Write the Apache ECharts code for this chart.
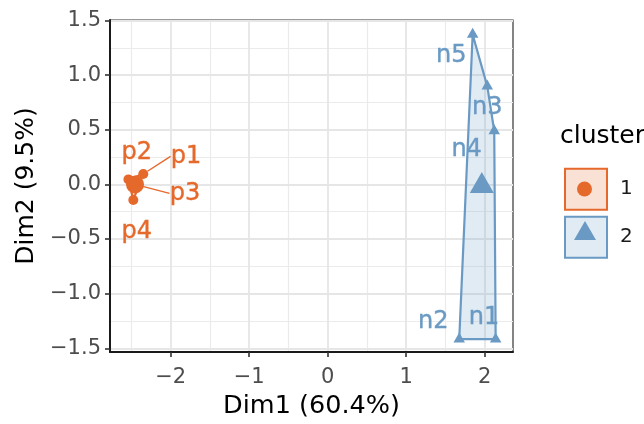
<!DOCTYPE html>
<html><head><meta charset="utf-8">
<script src="https://cdn.jsdelivr.net/npm/echarts@6/dist/echarts.min.js"></script>
<style>html,body{margin:0;padding:0;background:#fff}#c{width:644px;height:424px}</style>
</head><body><div id="c"></div>
<script>
// ---- data ----
const CLUSTER1_NAMES = ['p1', 'p2', 'p3', 'p4'];
const CLUSTER1_X = [-2.349, -2.538, -2.455, -2.476];
const CLUSTER1_Y = [0.096, 0.046, 0.0, -0.142];
const CLUSTER2_NAMES = ['n1', 'n2', 'n3', 'n4', 'n5'];
const CLUSTER2_X = [2.140, 1.676, 2.033, 2.122, 1.847];
const CLUSTER2_Y = [-1.416, -1.416, 0.900, 0.489, 1.372];
const X_TICKS = [-2, -1, 0, 1, 2];
const Y_TICKS = [-1.5, -1.0, -0.5, 0, 0.5, 1.0, 1.5];
const X_MINOR = [-2.5, -1.5, -0.5, 0.5, 1.5];
const Y_MINOR = [-1.25, -0.75, -0.25, 0.25, 0.75, 1.25];
const X_RANGE = [-2.773, 2.361];
const Y_RANGE = [-1.534, 1.505];
const LEGEND_LABELS = ['1', '2'];
const SEGMENT_LABELS = ['p1', 'p3'];

// ---- styles (label nudges in px, like ggrepel output) ----
const SHIFT1 = [[42.7, -17.5], [8.2, -26.5], [50, 9], [3.4, 31.8]];
const SHIFT2 = [[-11.7, -20], [-26, -16], [0, 23.3], [-27.6, 20], [-21.4, 23.3]];
const ORANGE = '#E6692C', BLUE = '#6A9AC4';
const ORANGE_FILL = 'rgba(230,105,44,0.2)', BLUE_FILL = 'rgba(106,154,196,0.2)';
const FONT = 'DejaVu Sans';

function zip(xs, ys) { return xs.map((x, i) => [x, ys[i]]); }
function mean(a) { return a.reduce((s, v) => s + v, 0) / a.length; }
function hull(pts) {
  const p = pts.slice().sort((a, b) => a[0] - b[0] || a[1] - b[1]);
  const cross = (o, a, b) => (a[0] - o[0]) * (b[1] - o[1]) - (a[1] - o[1]) * (b[0] - o[0]);
  const lo = [], up = [];
  for (const q of p) { while (lo.length >= 2 && cross(lo[lo.length - 2], lo[lo.length - 1], q) <= 0) lo.pop(); lo.push(q); }
  for (let i = p.length - 1; i >= 0; i--) { const q = p[i]; while (up.length >= 2 && cross(up[up.length - 2], up[up.length - 1], q) <= 0) up.pop(); up.push(q); }
  up.pop(); lo.pop();
  return lo.concat(up);
}
const pts1 = zip(CLUSTER1_X, CLUSTER1_Y);
const pts2 = zip(CLUSTER2_X, CLUSTER2_Y);
const hull1 = hull(pts1), hull2 = hull(pts2);
const center1 = [mean(CLUSTER1_X), mean(CLUSTER1_Y)];
const center2 = [mean(CLUSTER2_X), mean(CLUSTER2_Y)];
const minus = v => String(v).replace('-', '\u2212');

function hullSeries(name, h, stroke, fill) {
  return {
    name: name, type: 'custom', z: 2, silent: true, animation: false,
    data: h,
    renderItem: function (params, api) {
      if (params.dataIndex !== 0) return null;
      return {
        type: 'polygon',
        shape: { points: h.map(p => api.coord(p)) },
        style: { fill: fill, stroke: stroke, lineWidth: 2.2, lineJoin: 'round' }
      };
    }
  };
}
function pointSeries(name, names, pts, shift, color, symbol, size, offset) {
  return {
    name: name, type: 'scatter', z: 4, animation: false,
    symbol: symbol, symbolSize: size, symbolOffset: offset,
    itemStyle: { color: color, opacity: 1 },
    data: names.map((n, i) => ({
      name: n, value: pts[i],
      labelLine: { show: SEGMENT_LABELS.indexOf(n) >= 0 }
    })),
    label: {
      show: true, position: 'inside', formatter: '{b}', fontSize: 24, fontFamily: FONT,
      color: color, align: 'center', verticalAlign: 'middle',
      textBorderWidth: 0.4, textBorderColor: color, opacity: 1
    },
    labelLayout: function (p) { const s = shift[p.dataIndex]; return { dx: s[0], dy: s[1] }; },
    labelLine: { show: false, lineStyle: { color: color, width: 1.4 } }
  };
}

const chart = echarts.init(document.getElementById('c'), null, { renderer: 'canvas' });
chart.setOption({
  backgroundColor: '#fff',
  textStyle: { fontFamily: FONT },
  animation: false,
  title: { text: 'cluster', left: 555, top: 119, textStyle: { fontSize: 25, fontWeight: 'normal', color: '#000', fontFamily: FONT } },
  grid: { left: 110, right: 131, top: 20, bottom: 72, show: true, borderColor: '#333', borderWidth: 1.2, backgroundColor: '#fff' },
  xAxis: {
    type: 'value', min: X_RANGE[0], max: X_RANGE[1],
    splitLine: { show: false },
    axisLine: { show: true, onZero: false, lineStyle: { color: '#1a1a1a', width: 2 } },
    axisTick: { show: true, customValues: X_TICKS, length: 5, lineStyle: { color: '#333', width: 1.6 } },
    axisLabel: { customValues: X_TICKS, formatter: v => minus(v), fontSize: 21, color: '#4D4D4D', margin: 15 },
    name: 'Dim1 (60.4%)', nameLocation: 'middle', nameGap: 41,
    nameTextStyle: { fontSize: 25.5, color: '#000' }
  },
  yAxis: {
    type: 'value', min: Y_RANGE[0], max: Y_RANGE[1],
    splitLine: { show: false },
    axisLine: { show: true, onZero: false, lineStyle: { color: '#1a1a1a', width: 2 } },
    axisTick: { show: true, customValues: Y_TICKS, length: 5, lineStyle: { color: '#333', width: 1.6 } },
    axisLabel: { customValues: Y_TICKS, formatter: v => minus(Number(v).toFixed(1)), fontSize: 21, color: '#4D4D4D', margin: 9 },
    name: 'Dim2 (9.5%)', nameLocation: 'middle', nameGap: 67,
    nameTextStyle: { fontSize: 25, color: '#000' }
  },
  legend: [
    {
      orient: 'vertical', left: 559, top: 162.7, itemWidth: 42, itemHeight: 41, itemGap: 5,
      selectedMode: false,
      textStyle: { fontSize: 20, color: '#1a1a1a', padding: [0, 0, 0, 8] },
      data: [
        { name: LEGEND_LABELS[0], icon: 'rect', itemStyle: { color: ORANGE_FILL, borderColor: ORANGE, borderWidth: 2 } },
        { name: LEGEND_LABELS[1], icon: 'rect', itemStyle: { color: BLUE_FILL, borderColor: BLUE, borderWidth: 2 } }
      ]
    },
    {
      orient: 'vertical', left: 572, top: 176.5, itemWidth: 15, itemHeight: 15, selectedMode: false,
      formatter: () => ' ', textStyle: { fontSize: 8, color: 'rgba(0,0,0,0)' },
      data: [{ name: LEGEND_LABELS[0], icon: 'circle', itemStyle: { color: ORANGE, borderWidth: 0 } }]
    },
    {
      orient: 'vertical', left: 569, top: 216, itemWidth: 22, itemHeight: 19, selectedMode: false,
      formatter: () => ' ', textStyle: { fontSize: 8, color: 'rgba(0,0,0,0)' },
      data: [{ name: LEGEND_LABELS[1], icon: 'triangle', itemStyle: { color: BLUE, borderWidth: 0 } }]
    }
  ],
  series: [
    {
      type: 'scatter', data: [], z: 0, silent: true,
      markLine: {
        z: 0, silent: true, symbol: 'none', animation: false, label: { show: false },
        emphasis: { disabled: true },
        data: [].concat(
          X_MINOR.map(v => ({ xAxis: v, lineStyle: { color: '#EBEBEB', width: 1.2, type: 'solid' } })),
          Y_MINOR.map(v => ({ yAxis: v, lineStyle: { color: '#EBEBEB', width: 1.2, type: 'solid' } })),
          X_TICKS.map(v => ({ xAxis: v, lineStyle: { color: '#E6E6E6', width: 1.8, type: 'solid' } })),
          Y_TICKS.map(v => ({ yAxis: v, lineStyle: { color: '#E6E6E6', width: 1.8, type: 'solid' } }))
        )
      }
    },
    hullSeries(LEGEND_LABELS[0], hull1, ORANGE, ORANGE_FILL),
    hullSeries(LEGEND_LABELS[1], hull2, BLUE, BLUE_FILL),
    pointSeries(LEGEND_LABELS[0], CLUSTER1_NAMES, pts1, SHIFT1, ORANGE, 'circle', 10, [0, 0]),
    pointSeries(LEGEND_LABELS[1], CLUSTER2_NAMES, pts2, SHIFT2, BLUE, 'triangle', [11.5, 10], [0, -1.7]),
    {
      name: LEGEND_LABELS[0], type: 'scatter', z: 5, symbol: 'circle', symbolSize: 18,
      itemStyle: { color: ORANGE, opacity: 1 }, data: [center1]
    },
    {
      name: LEGEND_LABELS[1], type: 'scatter', z: 5, symbol: 'triangle', symbolSize: [24, 21], symbolOffset: [0, -3.5],
      itemStyle: { color: BLUE, opacity: 1 }, data: [center2]
    }
  ]
});
</script>
</body></html>
